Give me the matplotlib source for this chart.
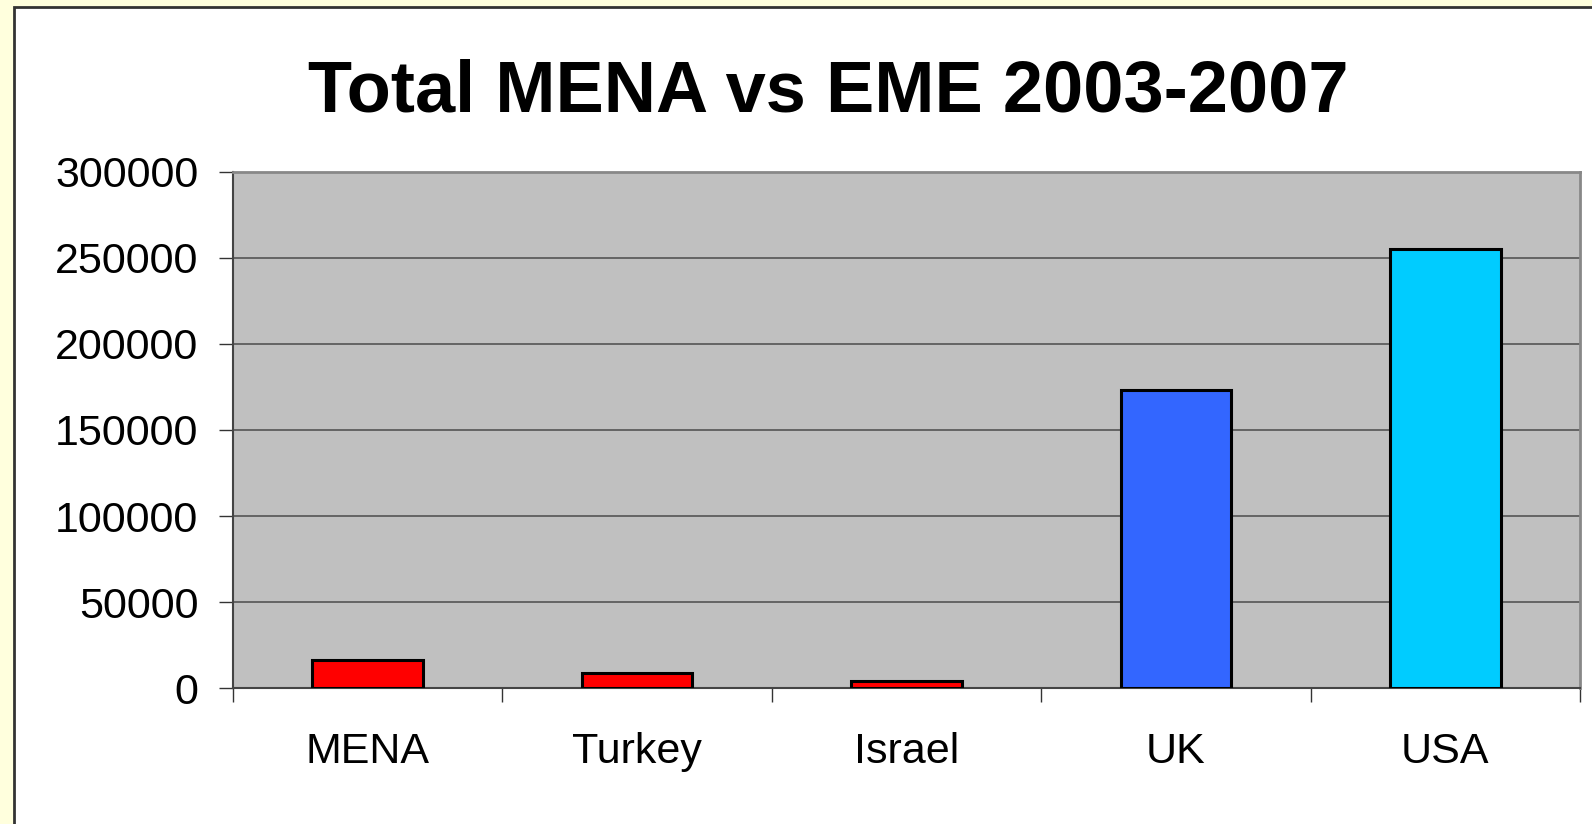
import matplotlib.pyplot as plt
from matplotlib.patches import Rectangle

categories = ['MENA', 'Turkey', 'Israel', 'UK', 'USA']
values = [16000, 8500, 4000, 173000, 255500]
colors = ['#FF0000', '#FF0000', '#FF0000', '#3366FF', '#00CCFF']
yticks = [0, 50000, 100000, 150000, 200000, 250000, 300000]

plt.rcParams['font.family'] = ['Liberation Sans', 'DejaVu Sans']

fig = plt.figure(figsize=(15.92, 8.24), dpi=100)
fig.patch.set_facecolor('#FFFFDD')

# White panel with dark border, cut off at right and bottom
W, H = 1592, 824
panel = Rectangle((14 / W, -0.05), 1.1, 1 - 7 / H + 0.05,
                  transform=fig.transFigure, facecolor='white',
                  edgecolor='#333333', linewidth=2, zorder=-5)
fig.patches.append(panel)

ax = fig.add_axes([233 / W, 1 - 688 / H, (1580 - 233) / W, (688 - 172) / H])
ax.set_facecolor('#C0C0C0')

x = list(range(len(categories)))
ax.bar(x, values, width=0.41, color=colors, edgecolor='black',
       linewidth=2.2, zorder=3)

ax.set_xlim(-0.5, len(categories) - 0.5)
ax.set_ylim(0, 300000)
ax.set_yticks(yticks)
ax.set_yticklabels([str(v) for v in yticks], fontsize=31)
ax.yaxis.grid(True, color='#555555', linewidth=1.2, zorder=1)
ax.set_axisbelow(True)

# Category ticks sit between bars, labels at bar centres
ax.set_xticks([i - 0.5 for i in range(len(categories) + 1)])
ax.set_xticklabels([])
ax.set_xticks(x, minor=True)
ax.set_xticklabels(categories, minor=True, fontsize=31)
ax.tick_params(axis='x', which='major', length=10, width=1, color='#333333',
               direction='out')
ax.tick_params(axis='x', which='minor', length=0, pad=32)
ax.tick_params(axis='y', length=10, width=1, color='#333333', pad=15)

for side in ['top', 'right']:
    ax.spines[side].set_color('#888888')
    ax.spines[side].set_linewidth(2)
ax.spines['left'].set_color('#444444')
ax.spines['left'].set_linewidth(1.5)
ax.spines['bottom'].set_color('#444444')
ax.spines['bottom'].set_linewidth(1.5)

fig.text(828 / W, 1 - 93 / H, 'Total MENA vs EME 2003-2007', ha='center',
         va='center', fontsize=52, fontweight='bold')

fig.savefig('out.png', dpi=100, facecolor=fig.get_facecolor())
